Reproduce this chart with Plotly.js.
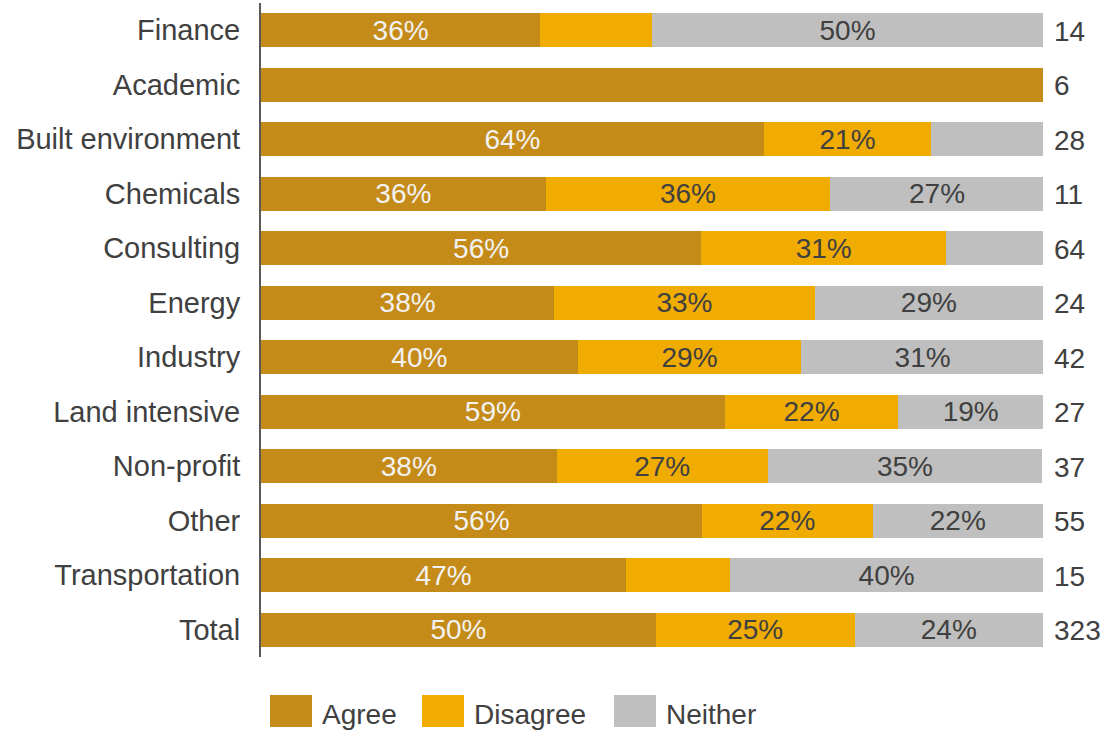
<!DOCTYPE html>
<html>
<head>
<meta charset="utf-8">
<script src="https://cdn.plot.ly/plotly-3.0.1.min.js"></script>
<style>html,body{margin:0;padding:0;background:#fff;}#chart{width:1105px;height:731px;}</style>
</head>
<body>
<div id="chart"></div>
<script>
const categories = ["Finance","Academic","Built environment","Chemicals","Consulting","Energy","Industry","Land intensive","Non-profit","Other","Transportation","Total"];
const agree    = [35.7, 100, 64.3, 36.4, 56.3, 37.5, 40.5, 59.3, 37.8, 56.4, 46.7, 50.5];
const disagree = [14.3, 0, 21.4, 36.4, 31.3, 33.3, 28.6, 22.2, 27.0, 21.8, 13.3, 25.4];
const neither  = [50.0, 0, 14.3, 27.3, 12.5, 29.2, 31.0, 18.5, 35.1, 21.8, 40.0, 24.1];
const agreeLabels    = ["36%","","64%","36%","56%","38%","40%","59%","38%","56%","47%","50%"];
const disagreeLabels = ["","","21%","36%","31%","33%","29%","22%","27%","22%","","25%"];
const neitherLabels  = ["50%","","","27%","","29%","31%","19%","35%","22%","40%","24%"];
const counts = [14, 6, 28, 11, 64, 24, 42, 27, 37, 55, 15, 323];
const seriesNames = ["Agree","Disagree","Neither"];
const seriesColors = ["#C58B19","#F0AC00","#BFBFBF"];
const labelColors = ["#F2F2F2","#404040","#404040"];

const FONT = "Liberation Sans, Arial, sans-serif";
const values = [agree, disagree, neither];
const labels = [agreeLabels, disagreeLabels, neitherLabels];

const traces = seriesNames.map((name, i) => ({
  type: "bar",
  orientation: "h",
  name: name,
  y: categories,
  x: values[i],
  text: labels[i],
  textposition: "inside",
  insidetextanchor: "middle",
  textangle: 0,
  constraintext: "none",
  textfont: {family: FONT, size: 28, color: labelColors[i]},
  marker: {color: seriesColors[i], line: {width: 0}},
  hoverinfo: "none",
  showlegend: false
}));

const W = 1105, H = 731;
const M = {l: 261, r: 62, t: 3, b: 74};
const pw = W - M.l - M.r, ph = H - M.t - M.b;
const px2x = p => (p - M.l) / pw;
const py2y = p => (H - M.b - p) / ph;

const annotations = categories.map((c, i) => ({
  x: 100, y: c, xref: "x", yref: "y",
  text: String(counts[i]),
  showarrow: false, xanchor: "left", xshift: 9, yshift: -1,
  font: {family: FONT, size: 28, color: "#404040"}
}));

const legendX = [270, 422, 614];
const shapes = [];
seriesNames.forEach((n, i) => {
  shapes.push({type: "rect", xref: "paper", yref: "paper",
    x0: px2x(legendX[i]), x1: px2x(legendX[i] + 42),
    y0: py2y(727), y1: py2y(695),
    fillcolor: seriesColors[i], line: {width: 0}});
  annotations.push({xref: "paper", yref: "paper",
    x: px2x(legendX[i] + 50), y: py2y(714),
    xanchor: "left", yanchor: "middle", showarrow: false,
    text: n, font: {family: FONT, size: 28, color: "#404040"}});
});

const layout = {
  width: W, height: H, autosize: false,
  margin: M,
  paper_bgcolor: "#fff", plot_bgcolor: "#fff",
  barmode: "stack",
  bargap: 0.376,
  showlegend: false,
  font: {family: FONT, color: "#404040"},
  xaxis: {range: [0, 100], visible: false, fixedrange: true},
  yaxis: {
    type: "category", autorange: "reversed",
    showline: true, linecolor: "#595959", linewidth: 2,
    showgrid: false, zeroline: false, ticks: "",
    ticklabelstandoff: 13,
    tickfont: {family: FONT, size: 29, color: "#404040"}
  },
  uniformtext: {mode: false},
  annotations: annotations,
  shapes: shapes
};

Plotly.newPlot("chart", traces, layout, {displayModeBar: false, staticPlot: true});
</script>
</body>
</html>
